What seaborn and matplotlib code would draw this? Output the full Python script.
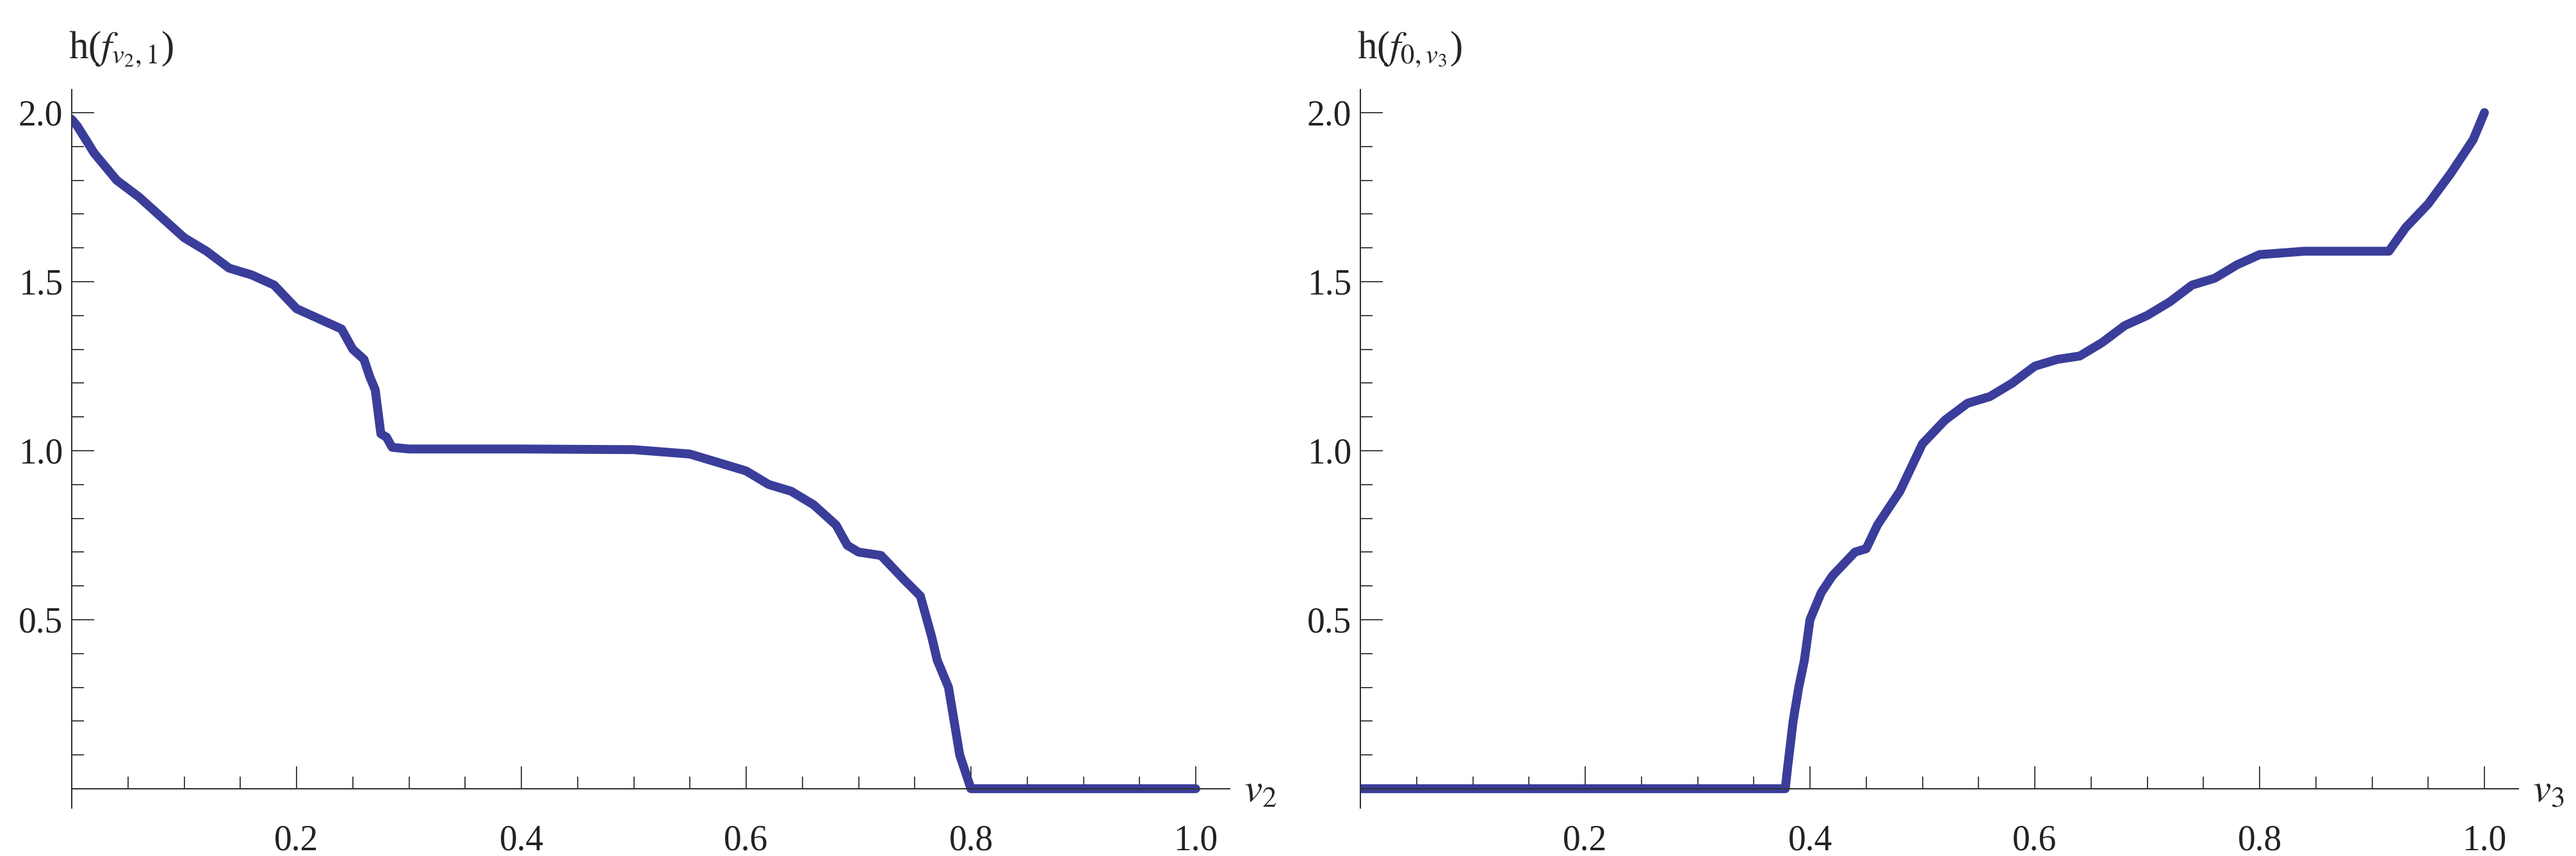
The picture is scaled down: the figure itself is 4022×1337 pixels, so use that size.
import matplotlib
matplotlib.use("Agg")
import matplotlib.pyplot as plt
import seaborn as sns
import numpy as np
from matplotlib.ticker import MultipleLocator, FixedLocator

left_x = [0, 0.005, 0.02, 0.04, 0.06, 0.08, 0.10, 0.12, 0.14, 0.16, 0.18, 0.20, 0.22, 0.24, 0.25, 0.26, 0.265,
          0.27, 0.275, 0.28, 0.285, 0.3, 0.4, 0.5, 0.55, 0.58, 0.6, 0.62, 0.64, 0.66, 0.68, 0.69, 0.70, 0.72,
          0.74, 0.755, 0.765, 0.77, 0.78, 0.785, 0.79, 0.795, 0.8, 1.0]
left_y = [1.98, 1.96, 1.88, 1.80, 1.75, 1.69, 1.63, 1.59, 1.54, 1.52, 1.49, 1.42, 1.39, 1.36, 1.30, 1.27, 1.22,
          1.18, 1.05, 1.04, 1.01, 1.005, 1.005, 1.003, 0.99, 0.96, 0.94, 0.90, 0.88, 0.84, 0.78, 0.72, 0.70, 0.69,
          0.62, 0.57, 0.45, 0.38, 0.30, 0.20, 0.10, 0.05, 0.0, 0.0]
right_x = [0, 0.378, 0.38, 0.385, 0.39, 0.395, 0.40, 0.41, 0.42, 0.44, 0.45, 0.46, 0.48, 0.5, 0.52, 0.54, 0.56,
           0.58, 0.60, 0.62, 0.64, 0.66, 0.68, 0.70, 0.72, 0.74, 0.76, 0.78, 0.80, 0.84, 0.915, 0.93, 0.95, 0.97,
           0.99, 1.0]
right_y = [0, 0, 0.06, 0.2, 0.3, 0.38, 0.5, 0.58, 0.63, 0.70, 0.71, 0.78, 0.88, 1.02, 1.09, 1.14, 1.16,
           1.20, 1.25, 1.27, 1.28, 1.32, 1.37, 1.40, 1.44, 1.49, 1.51, 1.55, 1.58, 1.59, 1.59, 1.66, 1.73, 1.82,
           1.92, 2.0]
xticks = [0.2, 0.4, 0.6, 0.8, 1.0]
yticks = [0.5, 1.0, 1.5, 2.0]

sns.set_style("white")
plt.rcParams['font.family'] = ['Liberation Serif', 'DejaVu Serif']
plt.rcParams['mathtext.fontset'] = 'stix'

fig = plt.figure(figsize=(40.22, 13.37), dpi=100)
color = '#3a3d9a'
specs = [(112, left_x, left_y, r'h($f_{v_2,1}$)', r'$v_2$'),
         (2124, right_x, right_y, r'h($f_{0,v_3}$)', r'$v_3$')]
for px0, xs, ys, ylab, xlab in specs:
    w = 1755
    ax = fig.add_axes([px0 / 4022, 1 - 1262 / 1337, (w * 1.03) / 4022, (1262 - 140) / 1337])
    sns.lineplot(x=xs, y=ys, ax=ax, color=color, lw=10, solid_capstyle='round')
    ax.set_xlim(0, 1.03)
    ax.set_ylim(-0.057, 2.068)
    for s in ['top', 'right']:
        ax.spines[s].set_visible(False)
    ax.spines['bottom'].set_position(('data', 0))
    ax.spines['left'].set_bounds(-0.057, 2.068)
    for s in ['left', 'bottom']:
        ax.spines[s].set_linewidth(1.5)
        ax.spines[s].set_color('#333333')
    ax.xaxis.set_major_locator(FixedLocator(xticks))
    ax.xaxis.set_minor_locator(MultipleLocator(0.05))
    ax.yaxis.set_major_locator(FixedLocator(yticks))
    ax.yaxis.set_minor_locator(MultipleLocator(0.1))
    ax.set_xticklabels([f'{t:.1f}' for t in xticks])
    ax.set_yticklabels([f'{t:.1f}' for t in yticks])
    ax.tick_params(which='both', bottom=True, left=True)
    ax.tick_params(axis='x', which='major', direction='in', length=25, width=1.3, labelsize=40, pad=40, colors='#333333', labelcolor='#222222')
    ax.tick_params(axis='x', which='minor', direction='in', length=14, width=1.3, colors='#333333')
    ax.tick_params(axis='y', which='major', direction='in', length=25, width=1.3, labelsize=40, pad=10, colors='#333333', labelcolor='#222222')
    ax.tick_params(axis='y', which='minor', direction='in', length=14, width=1.3, colors='#333333')
    ax.text(-0.003, 2.13, ylab, fontsize=44, ha='left', va='bottom', clip_on=False)
    ax.text(1.043, -0.01, xlab, fontsize=46, ha='left', va='center', clip_on=False)
    ax.grid(False)

fig.savefig('out.png', dpi=100)
